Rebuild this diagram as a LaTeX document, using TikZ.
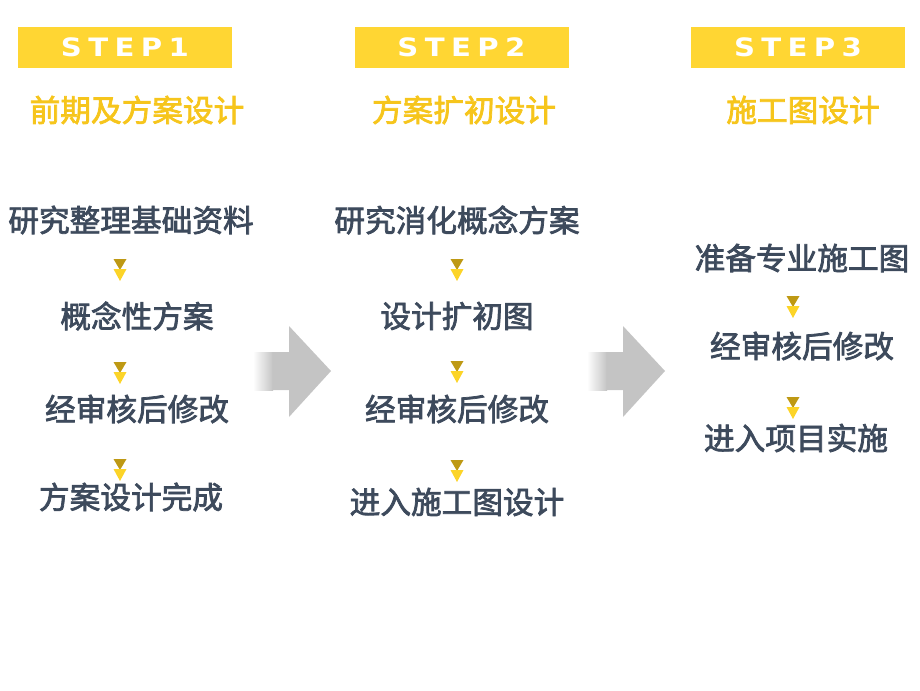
\documentclass[tikz,border=0pt]{standalone}
\usepackage{xcolor}
\usepackage{fontspec}
\setmainfont{Liberation Sans}
\newfontfamily\stepfont{DejaVu Sans}[LetterSpace=22]
\newfontfamily\cjk{Noto Sans CJK SC}[FakeBold=2.4]
\usetikzlibrary{positioning, calc}

\definecolor{baryellow}{RGB}{255,214,51}
\definecolor{phaseyellow}{RGB}{246,197,28}
\definecolor{taskgray}{RGB}{61,74,92}
\definecolor{markdark}{RGB}{190,153,20}
\definecolor{marklight}{RGB}{252,212,40}
\definecolor{arrowgray}{RGB}{196,196,196}

\tikzset{
  stepbar/.style={fill=baryellow, text=white, inner sep=0pt,
    minimum width=160.5pt, minimum height=30.75pt,
    font=\stepfont\bfseries\fontsize{19}{20}\selectfont},
  phase/.style={text=phaseyellow, inner sep=0pt, font=\cjk\fontsize{23}{26}\selectfont},
  task/.style={text=taskgray, inner sep=0pt, font=\cjk\fontsize{23}{26}\selectfont}
}

% small double triangle between two tasks
\newcommand{\downmark}[1]{%
  \fill[markdark] ($(#1)+(-6.5,-11)$) -- ($(#1)+(6.5,-11)$) -- ($(#1)+(0,0)$) -- cycle;
  \fill[marklight] ($(#1)+(-6.5,-1)$) -- ($(#1)+(6.5,-1)$) -- ($(#1)+(0,11)$) -- cycle;}

% big grey arrow between two columns
\newcommand{\bigarrow}[1]{%
  \shade[left color=white, right color=arrowgray] ($(#1)+(0,-19)$) rectangle ($(#1)+(20,19)$);
  \fill[arrowgray] ($(#1)+(19.5,-19)$) -- ($(#1)+(36,-19)$) -- ($(#1)+(36,-45)$)
    -- ($(#1)+(78,0)$) -- ($(#1)+(36,46)$) -- ($(#1)+(36,19)$) -- ($(#1)+(19.5,19)$) -- cycle;}

\begin{document}
\begin{tikzpicture}[x=0.75pt, y=-0.75pt]
  \useasboundingbox (0,0) rectangle (920,690);

  % step headers
  \node[stepbar] (s1) at (125,47.5) {\scalebox{1.15}[1]{STEP1}};
  \node[stepbar] (s2) at (461.5,47.5) {\scalebox{1.15}[1]{STEP2}};
  \node[stepbar] (s3) at (798,47.5) {\scalebox{1.15}[1]{STEP3}};

  % phase titles
  \node[phase] (p1) at (137,110) {前期及方案设计};
  \node[phase] (p2) at (464,110) {方案扩初设计};
  \node[phase] (p3) at (803,110) {施工图设计};

  % column 1
  \node[task] (a1) at (131,220) {研究整理基础资料};
  \node[task] (a2) at (137,316) {概念性方案};
  \node[task] (a3) at (137,409) {经审核后修改};
  \node[task] (a4) at (131,497) {方案设计完成};

  % column 2
  \node[task] (b1) at (457,220) {研究消化概念方案};
  \node[task] (b2) at (457,316) {设计扩初图};
  \node[task] (b3) at (457,409) {经审核后修改};
  \node[task] (b4) at (457,502) {进入施工图设计};

  % column 3
  \node[task] (c1) at (802,258) {准备专业施工图};
  \node[task] (c2) at (802,346) {经审核后修改};
  \node[task] (c3) at (796,438) {进入项目实施};

  % markers
  \foreach \px/\py in {120/270, 120/373, 120/470,
                       457/270, 457/372, 457/471,
                       793/307, 793/408}
    \downmark{\px,\py};

  % arrows between steps
  \bigarrow{253,371}
  \bigarrow{587,371}
\end{tikzpicture}
\end{document}
